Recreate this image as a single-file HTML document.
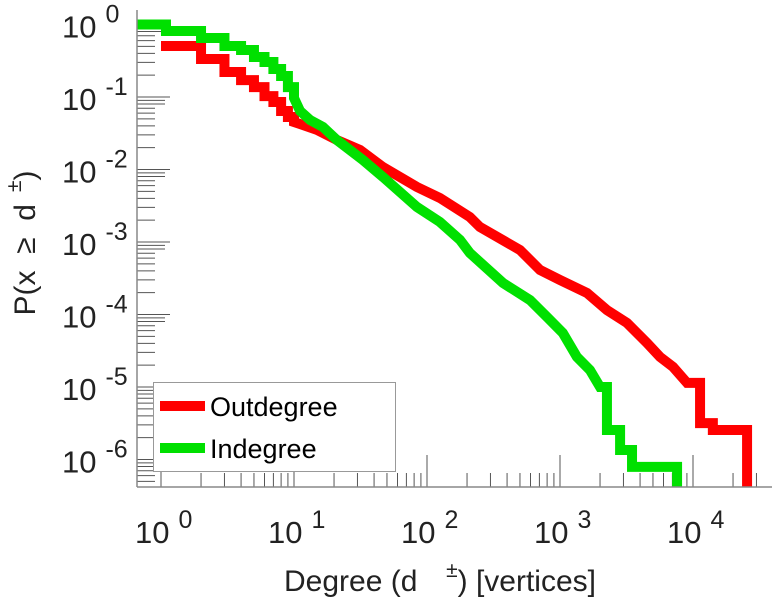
<!DOCTYPE html>
<html><head><meta charset="utf-8"><style>
html,body{margin:0;padding:0;background:#fff;}
svg text{font-family:"Liberation Sans",sans-serif;fill:#222;}
</style></head><body>
<svg id="chart" width="772" height="600" viewBox="0 0 772 600" xmlns="http://www.w3.org/2000/svg">
<g id="ticks"></g>
<g id="series"></g>
<g id="axes"></g>
<g id="labels"></g>
<text transform="translate(35,243) rotate(-90)" text-anchor="middle" font-size="30" xml:space="preserve">P(x  ≥  d<tspan dx="12" dy="-14" font-size="21">±</tspan><tspan dy="14">)</tspan></text>
<text x="440" y="591" text-anchor="middle" font-size="30" xml:space="preserve">Degree (d  <tspan dx="12" dy="-14" font-size="21">±</tspan><tspan dy="14">) [vertices]</tspan></text>
<g>
<rect x="153.5" y="382.5" width="242" height="89" fill="#fff" stroke="#999" stroke-width="1"/>
<line x1="160" y1="406" x2="205" y2="406" stroke="#ff0000" stroke-width="10"/>
<text x="210" y="416" font-size="27" style="fill:#000">Outdegree</text>
<line x1="160" y1="448" x2="205" y2="448" stroke="#00e000" stroke-width="10"/>
<text x="210" y="458" font-size="27" style="fill:#000">Indegree</text>
</g>
</svg>
<script>
const outDeg = [1,2,3,4,5,6,7,8,9,10,11.1,14.9,21,31.4,46.7,84,125,210,250,500,708,1000,1596,2254,3190,4510,5650,7080,9020,11300,14100,25500];
const outP = [0.505,0.334,0.221,0.171,0.137,0.103,0.0853,0.0641,0.053,0.0452,0.0424,0.0351,0.0255,0.0186,0.0108,5.74e-3,4.05e-3,2.21e-3,1.61e-3,7.76e-4,4.11e-4,2.99e-4,1.98e-4,1.15e-4,7.64e-5,4.05e-5,2.6e-5,1.89e-5,1.14e-5,3.18e-6,2.55e-6,1e-8];
const inDeg = [0.66,1.09,2,3,4,5,6,7,8,9,10,11.1,13.2,16.5,21,33,46.7,84,125,177,210,373,595,798,1050,1340,1680,2000,2254,2830,3480,7590];
const inP = [1.0,0.813,0.651,0.505,0.445,0.356,0.304,0.243,0.195,0.137,0.0968,0.0641,0.0482,0.0386,0.0255,0.0135,7.88e-3,3.04e-3,1.89e-3,1.07e-3,7.05e-4,2.72e-4,1.58e-4,9.25e-5,5.56e-5,2.6e-5,1.71e-5,1e-5,2.55e-6,1.35e-6,7.9e-7,1e-8];
const outSmoothRange = [10, 9020];
const inSmoothRange = [10, 2000];
const xTickExp = [0,1,2,3,4];
const yTickExp = [0,-1,-2,-3,-4,-5,-6];

const NS = "http://www.w3.org/2000/svg";
const X0 = 137, X1 = 772, Y0 = 10, Y1 = 487;
function sx(v){ return 161 + 133 * Math.log10(v); }
function sy(v){ return Math.min(Y1 + 20, 24.5 - 72.5 * Math.log10(v)); }
function mk(tag, attrs, parent){ const e = document.createElementNS(NS, tag); for (const k in attrs) e.setAttribute(k, attrs[k]); parent.appendChild(e); return e; }

const ticks = document.getElementById('ticks');
for (let e = 0; e <= 4; e++) {
  for (let m = 1; m <= 9; m++) {
    const x = sx(m * Math.pow(10, e));
    if (x < X0 || x > X1) continue;
    const t = mk('line', {x1: x, x2: x, y1: Y1, y2: Y1 - (m === 1 ? 32 : 14), stroke: '#555', 'stroke-width': 1}, ticks);
    
    
  }
}
for (let e = 0; e >= -7; e--) {
  for (let m = 1; m <= 9; m++) {
    const y = sy(m * Math.pow(10, e));
    if (y < Y0 || y > Y1) continue;
    const t = mk('line', {x1: X0, x2: X0 + (m === 1 ? 33 : (m >= 8 ? 28 : 18)), y1: y, y2: y, stroke: '#555', 'stroke-width': 1}, ticks);
    
    
  }
}

const clip = mk('clipPath', {id: 'plotclip'}, document.getElementById('chart'));
mk('rect', {x: X0, y: 0, width: X1 - X0, height: Y1}, clip);

function curve(ds, ps, range){
  let d = '';
  for (let i = 0; i < ds.length; i++) {
    const x = sx(ds[i]), y = sy(ps[i]);
    if (i === 0) d += 'M' + x + ' ' + y;
    else if (ds[i - 1] >= range[0] && ds[i] <= range[1]) d += ' L' + x + ' ' + y;
    else d += ' H' + x + ' V' + y;
  }
  return d;
}
const series = document.getElementById('series');
series.setAttribute('clip-path', 'url(#plotclip)');
const pOut = mk('path', {d: curve(outDeg, outP, outSmoothRange), fill: 'none', stroke: '#ff0000', 'stroke-width': 10, 'stroke-linejoin': 'miter'}, series);


const pIn = mk('path', {d: curve(inDeg, inP, inSmoothRange), fill: 'none', stroke: '#00e000', 'stroke-width': 10, 'stroke-linejoin': 'miter'}, series);



const axes = document.getElementById('axes');
const ax1 = mk('line', {x1: X0, x2: X0, y1: Y0, y2: Y1, stroke: '#888', 'stroke-width': 1.5}, axes);


const ax2 = mk('line', {x1: X0, x2: X1, y1: Y1, y2: Y1, stroke: '#888', 'stroke-width': 1.5}, axes);



const labels = document.getElementById('labels');
xTickExp.forEach(e => {
  const x = sx(Math.pow(10, e));
  const t = mk('text', {x: x - 26, y: 543, 'font-size': 31}, labels);
  
  
  t.innerHTML = '10<tspan dx="9" dy="-15" font-size="25">' + e + '</tspan>';
});
yTickExp.forEach(e => {
  const y = sy(Math.pow(10, e));
  const t = mk('text', {x: 62, y: y + 13, 'font-size': 31}, labels);
  
  
  t.innerHTML = '10<tspan dx="9" dy="-15" font-size="25">' + e + '</tspan>';
});
</script>
</body></html>
